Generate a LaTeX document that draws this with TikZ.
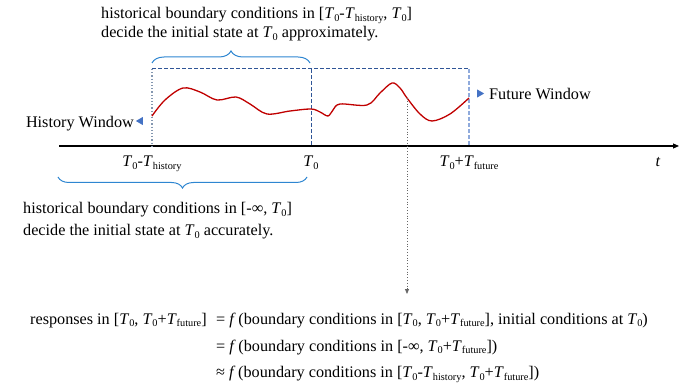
\documentclass[tikz,border=0pt]{standalone}
\usepackage{fontspec}
\setmainfont{Liberation Serif}
\usepackage{xcolor}
\usepackage{tikz}
\usetikzlibrary{shapes.geometric, arrows.meta, positioning, decorations.pathreplacing}

\definecolor{navyblue}{HTML}{2F5597}
\definecolor{paleblue}{HTML}{8FAADC}
\definecolor{greyblue}{HTML}{8497B0}
\definecolor{bracecol}{HTML}{2E86D1}
\definecolor{tricol}{HTML}{4472C4}
\definecolor{curvered}{HTML}{C00000}

\newcommand{\sub}[1]{\raisebox{-0.35ex}{\fontsize{10.3}{10.3}\selectfont #1}}
\newcommand{\Tz}{\textit{T}\sub{0}}
\newcommand{\Th}{\textit{T}\sub{history}}
\newcommand{\Tf}{\textit{T}\sub{future}}
\newcommand{\fn}{\textit{f}\,}

\begin{document}
\begin{tikzpicture}[
    x=1pt, y=-1pt,
    every node/.style={font=\fontsize{16.2}{18}\selectfont, inner sep=0pt},
    txt/.style={anchor=base west, align=left},
    axislbl/.style={anchor=base},
    axis/.style={-{Triangle[length=6pt,width=5pt]}, line width=1.1pt},
    navyline/.style={draw=navyblue, dashed, dash pattern=on 4pt off 2pt, line width=1pt},
    leftedge/.style={draw=greyblue, dotted, line width=1.2pt},
    rightedge/.style={draw=paleblue, dashed, dash pattern=on 4pt off 2pt, line width=1.2pt},
    curve/.style={draw=curvered, line width=1.3pt},
    brace/.style={draw=bracecol, line width=1pt, decorate,
        decoration={brace, amplitude=#1}},
    brace/.default=12pt,
    tri/.style={isosceles triangle, isosceles triangle apex angle=60, fill=tricol,
        minimum height=7pt, inner sep=0pt},
    pick/.style={-{Triangle[length=5pt,width=4pt]}, draw=gray!80!black, dotted, line width=0.8pt},
]
\useasboundingbox (0,0) rectangle (699,390);

% --- Axis ---
\coordinate (axisL) at (59,146);
\coordinate (axisR) at (679,146);
\draw[axis] (axisL) -- (axisR);

% --- Windows ---
\coordinate (hstart) at (152,146);
\coordinate (hstarttop) at (152,69);
\coordinate (tzero) at (311,146);
\coordinate (tzerotop) at (311,69);
\coordinate (fend) at (469,146);
\coordinate (fendtop) at (469,69);
\draw[leftedge] (hstarttop) -- (hstart);
\draw[navyline] (hstarttop) -- (fendtop);
\draw[navyline] (tzerotop) -- (tzero);
\draw[rightedge] (fendtop) -- (fend);

% --- Response curve ---
\draw[curve] plot[smooth, tension=0.55] coordinates {
    (152,116) (165,100) (183,88) (200,92) (217,100) (236,97) (250,104) (267,114)
    (290,111) (311,109) (320,112) (328,116) (333,110) (340,104) (367,105)
    (380,93) (392,83) (400,88) (407,98) (420,114) (432,121) (450,114) (469,98)};

% --- Axis labels ---
\node[axislbl] (lblhist) at (152,167) {\Tz-\Th};
\node[axislbl] (lbltzero) at (311,167) {\Tz};
\node[axislbl] (lblfut) at (469,167) {\Tz+\Tf};
\node[axislbl] (lblt) at (658,167) {\textit{t}};

% --- Window labels ---
\node[tri, shape border rotate=180] (histtri) at (140.5,121) {};
\node[anchor=base east] (histlbl) at (134,127.5) {History Window};
\node[tri] (futtri) at (479.5,93.5) {};
\node[anchor=base west] (futlbl) at (489,100) {Future Window};

% --- Braces ---
\draw[brace=12pt] (152,63) -- (310,63);
\draw[brace=11pt] (307,177) -- (58,177);

% --- Brace texts ---
\node[txt] (toptext) at (101,19) {historical boundary conditions in [\Tz-\Th, \Tz]};
\node[txt] (toptextb) at (101,37.5) {decide the initial state at \Tz\ approximately.};
\node[txt] (bottext) at (23,213.5) {historical boundary conditions in [-∞, \Tz]};
\node[txt] (bottextb) at (23,235.5) {decide the initial state at \Tz\ accurately.};

% --- Pointer to responses ---
\coordinate (cross) at (407,98);
\coordinate (pickend) at (407,294);
\draw[pick] (cross) -- (pickend);

% --- Equations ---
\node[txt] (resp) at (30,324) {responses in [\Tz, \Tz+\Tf]};
\node[txt] (eqa) at (216,324) {= \fn(boundary conditions in [\Tz, \Tz+\Tf], initial conditions at \Tz)};
\node[txt] (eqb) at (216,351) {= \fn(boundary conditions in [-∞, \Tz+\Tf])};
\node[txt] (eqc) at (216,377.5) {≈ \fn(boundary conditions in [\Tz-\Th, \Tz+\Tf])};

\end{tikzpicture}
\end{document}
